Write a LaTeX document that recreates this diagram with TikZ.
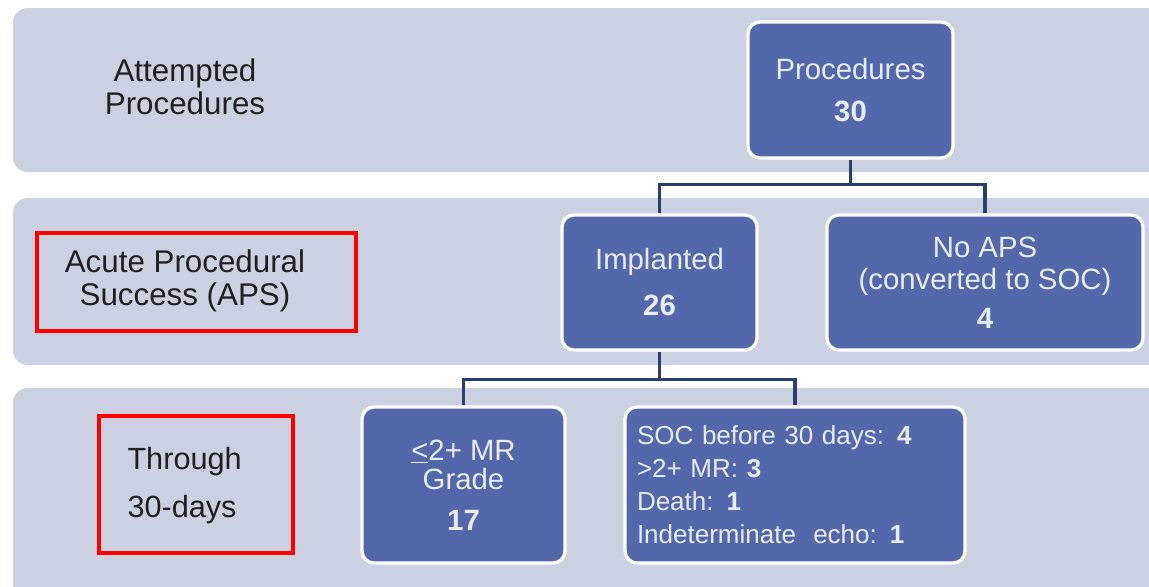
\documentclass[tikz,border=0pt]{standalone}
\usepackage{fontspec}
\setmainfont{Liberation Sans}
\usetikzlibrary{positioning}

\definecolor{bandgrey}{RGB}{204,209,225}
\definecolor{boxblue}{RGB}{83,103,171}
\definecolor{boxtext}{RGB}{232,236,248}
\definecolor{linknavy}{RGB}{38,62,112}

\tikzset{every picture/.style={line width=0.75pt}}
\tikzset{
  band/.style={fill=bandgrey, draw=none, rounded corners=11pt},
  stagebox/.style={rectangle, rounded corners=9pt, fill=boxblue, draw=white, line width=2.5pt,
    text=boxtext, align=center, inner sep=2pt, font=\fontsize{22}{24}\selectfont},
  stagelabel/.style={align=center, inner sep=0pt, text=black!88, font=\fontsize{23.5}{24.5}\selectfont},
  link/.style={draw=linknavy, line width=2.6pt},
  flag/.style={draw=red, line width=3pt}
}

\begin{document}
\begin{tikzpicture}[x=0.75pt,y=0.75pt,yscale=-1,xscale=1]
\useasboundingbox (0,0) rectangle (1149,586);

% background bands
\fill [band] (13,8) rectangle (1180,172);
\fill [band] (13,198) rectangle (1180,365);
\fill [band] (13,388) rectangle (1180,610);

% stage labels
\node [stagelabel] (lblattempt) at (185,87) {Attempted\\Procedures};
\node [stagelabel] (lblaps) at (185,281) {Acute Procedural\\Success (APS)};
\node [stagelabel, align=left, anchor=west, font=\fontsize{23}{36}\selectfont] (lbldays) at (127,486) {Through\\30-days};

% highlight frames
\draw [flag] (37,233) rectangle (356,331);
\draw [flag] (99,416) rectangle (293,553);

% boxes
\node [stagebox, minimum width=153.75pt, minimum height=102pt] (proc) at (850.5,90) {Procedures\\[7.5pt]\textbf{30}};
\node [stagebox, minimum width=146.25pt, minimum height=101.25pt] (impl) at (659.5,282.5) {Implanted\\[10.5pt]\textbf{26}};
\node [stagebox, minimum width=237pt, minimum height=101.25pt] (noaps) at (985,282.5) {No APS\\(converted to SOC)\\[5pt]\textbf{4}};
\node [stagebox, minimum width=152.25pt, minimum height=117pt] (mrgrade) at (463.5,485) {\underline{<}2+ MR\\[-2.25pt]Grade\\[6.75pt]\textbf{17}};
\node [stagebox, minimum width=255pt, minimum height=117pt, align=left, text width=237pt,
  font=\fontsize{19.5}{24.75}\selectfont] (socfail) at (795,485)
  {SOC before 30 days: \textbf{4}\\>2+ MR: \textbf{3}\\Death: \textbf{1}\\Indeterminate\ \ echo: \textbf{1}};

% connectors
\draw [link] (proc.south) -- ++(0,25) coordinate (split1);
\draw [link] (split1) -| (impl.north);
\draw [link] (split1) -| (noaps.north);
\draw [link] (impl.south) -- ++(0,28) coordinate (split2);
\draw [link] (split2) -| (mrgrade.north);
\draw [link] (split2) -| (socfail.north);
\end{tikzpicture}
\end{document}
